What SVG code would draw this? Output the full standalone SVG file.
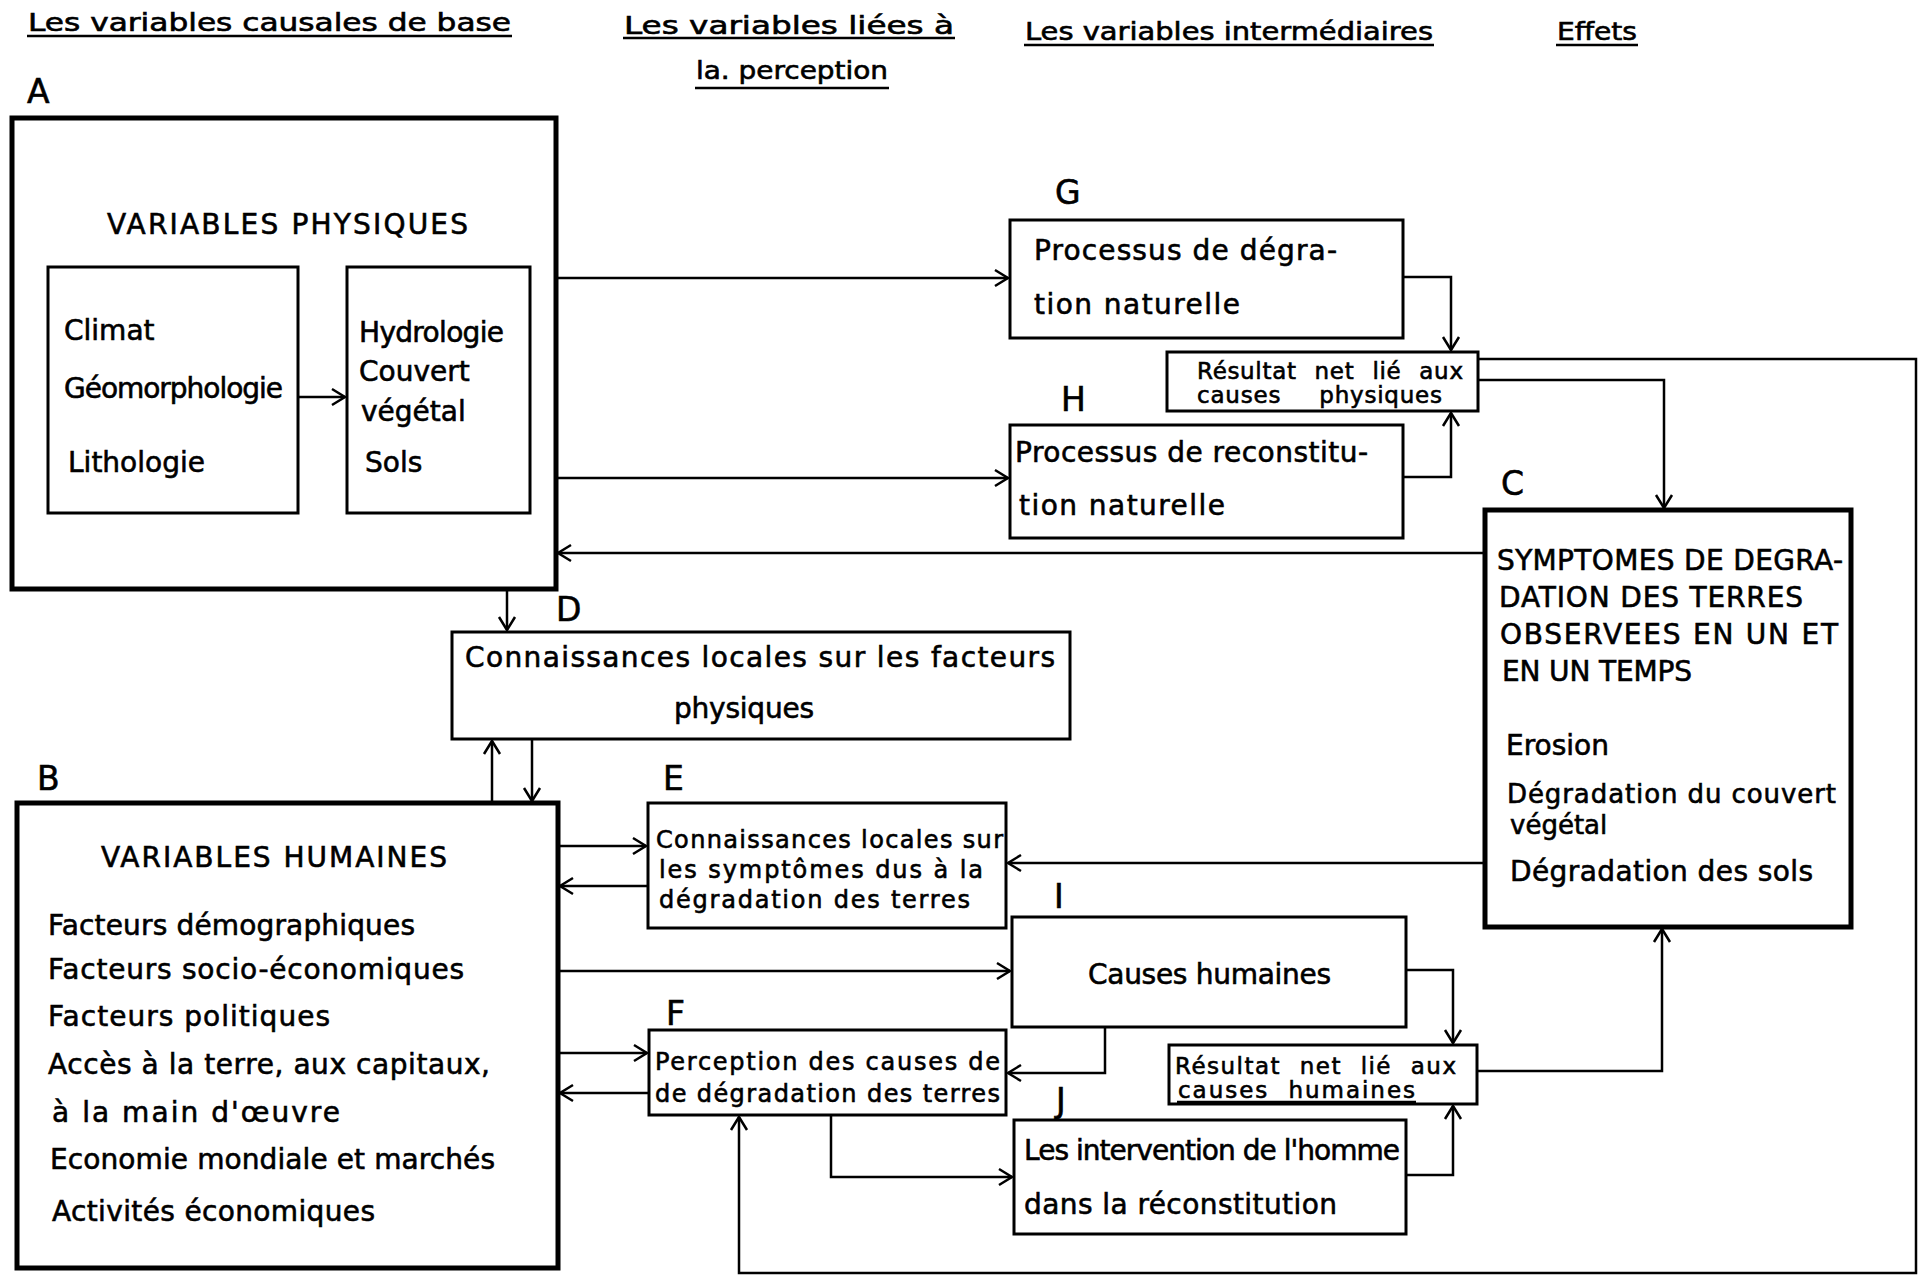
<svg xmlns="http://www.w3.org/2000/svg" width="1922" height="1276" viewBox="0 0 1922 1276">
<style>
text{font-family:"DejaVu Sans",sans-serif;fill:#000;stroke:#000;stroke-width:0.6}
.h{font-size:24px}
.t{font-size:28px}
.t2{font-size:26px}
.s{font-size:23px;word-spacing:10px}
.m{font-size:24px}
.l{font-size:33px}
.box{fill:none;stroke:#000;stroke-width:3}
.big{fill:none;stroke:#000;stroke-width:5}
.ul{stroke:#000;stroke-width:2.5}
.c{fill:none;stroke:#000;stroke-width:2.5}
</style>
<defs>
<marker id="ar" markerUnits="userSpaceOnUse" markerWidth="18" markerHeight="20" refX="15" refY="10" orient="auto">
<path d="M2,2 L15,10 L2,18" fill="none" stroke="#000" stroke-width="2.5"/>
</marker>
</defs>
<rect width="1922" height="1276" fill="#fff"/>

<g id="headers">
<text class="h" x="28" y="31" textLength="483" lengthAdjust="spacingAndGlyphs">Les variables causales de base</text>
<line class="ul" x1="27" y1="36" x2="512" y2="36"/>
<text class="h" x="624" y="34" textLength="330" lengthAdjust="spacingAndGlyphs">Les variables liées à</text>
<line class="ul" x1="623" y1="38" x2="955" y2="38"/>
<text class="h" x="696" y="79" textLength="192" lengthAdjust="spacingAndGlyphs">la. perception</text>
<line class="ul" x1="695" y1="88" x2="889" y2="88"/>
<text class="h" x="1025" y="40" textLength="408" lengthAdjust="spacingAndGlyphs">Les variables intermédiaires</text>
<line class="ul" x1="1024" y1="45" x2="1434" y2="45"/>
<text class="h" x="1557" y="40" textLength="80" lengthAdjust="spacingAndGlyphs">Effets</text>
<line class="ul" x1="1556" y1="45" x2="1638" y2="45"/>
</g>

<g id="nodeA">
<text class="l" x="27" y="103">A</text>
<rect class="big" x="12" y="118" width="544" height="471"/>
<text class="t" x="107" y="234" textLength="361">VARIABLES PHYSIQUES</text>
<rect class="box" x="48" y="267" width="250" height="246"/>
<text class="t" x="64" y="340">Climat</text>
<text class="t" x="64" y="398" textLength="219">Géomorphologie</text>
<text class="t" x="68" y="472">Lithologie</text>
<rect class="box" x="347" y="267" width="183" height="246"/>
<text class="t" x="359" y="342" textLength="145">Hydrologie</text>
<text class="t" x="359" y="381">Couvert</text>
<text class="t" x="361" y="421">végétal</text>
<text class="t" x="365" y="472">Sols</text>
</g>

<g id="nodeG">
<text class="l" x="1055" y="204">G</text>
<rect class="box" x="1010" y="220" width="393" height="118"/>
<text class="t" x="1034" y="260" textLength="303">Processus de dégra-</text>
<text class="t" x="1034" y="314" textLength="206">tion naturelle</text>
</g>

<g id="nodeResPhys">
<rect class="box" x="1167" y="352" width="311" height="59"/>
<text class="s" x="1197" y="379" textLength="266">Résultat net lié aux</text>
<text class="s" x="1197" y="403" textLength="245" style="word-spacing:30px">causes physiques</text>
</g>

<g id="nodeH">
<text class="l" x="1061" y="411">H</text>
<rect class="box" x="1010" y="425" width="393" height="113"/>
<text class="t" x="1015" y="462" textLength="353">Processus de reconstitu-</text>
<text class="t" x="1019" y="515" textLength="206">tion naturelle</text>
</g>

<g id="nodeC">
<text class="l" x="1501" y="495">C</text>
<rect class="big" x="1485" y="510" width="366" height="417"/>
<text class="t" x="1497" y="570" textLength="346">SYMPTOMES DE DEGRA-</text>
<text class="t" x="1499" y="607" textLength="304">DATION DES TERRES</text>
<text class="t" x="1500" y="644" textLength="338">OBSERVEES EN UN ET</text>
<text class="t" x="1502" y="681" textLength="190">EN UN TEMPS</text>
<text class="t" x="1506" y="755">Erosion</text>
<text class="t2" x="1507" y="803" textLength="329">Dégradation du couvert</text>
<text class="t2" x="1510" y="834">végétal</text>
<text class="t" x="1510" y="881" textLength="303">Dégradation des sols</text>
</g>

<g id="nodeD">
<text class="l" x="556" y="621">D</text>
<rect class="box" x="452" y="632" width="618" height="107"/>
<text class="t" x="465" y="667" textLength="590">Connaissances locales sur les facteurs</text>
<text class="t" x="674" y="718" textLength="140">physiques</text>
</g>

<g id="nodeB">
<text class="l" x="37" y="790">B</text>
<rect class="big" x="17" y="803" width="541" height="465"/>
<text class="t" x="101" y="867" textLength="346">VARIABLES HUMAINES</text>
<text class="t" x="48" y="935" textLength="367">Facteurs démographiques</text>
<text class="t" x="48" y="979" textLength="416">Facteurs socio-économiques</text>
<text class="t" x="48" y="1026" textLength="282">Facteurs politiques</text>
<text class="t" x="48" y="1074" textLength="442">Accès à la terre, aux capitaux,</text>
<text class="t" x="52" y="1122" textLength="288">à la main d'œuvre</text>
<text class="t" x="50" y="1169" textLength="445">Economie mondiale et marchés</text>
<text class="t" x="52" y="1221" textLength="323">Activités économiques</text>
</g>

<g id="nodeE">
<text class="l" x="663" y="790">E</text>
<rect class="box" x="648" y="803" width="358" height="125"/>
<text class="m" x="656" y="848" textLength="347">Connaissances locales sur</text>
<text class="m" x="659" y="878" textLength="324">les symptômes dus à la</text>
<text class="m" x="659" y="908" textLength="311">dégradation des terres</text>
</g>

<g id="nodeI">
<text class="l" x="1054" y="908">I</text>
<rect class="box" x="1012" y="917" width="394" height="110"/>
<text class="t" x="1088" y="984" textLength="243">Causes humaines</text>
</g>

<g id="nodeF">
<text class="l" x="666" y="1025">F</text>
<rect class="box" x="649" y="1030" width="357" height="85"/>
<text class="m" x="655" y="1070" textLength="345">Perception des causes de</text>
<text class="m" x="655" y="1102" textLength="345">de dégradation des terres</text>
</g>

<g id="nodeResHum">
<rect class="box" x="1169" y="1045" width="308" height="59"/>
<text class="s" x="1175" y="1074" textLength="281">Résultat net lié aux</text>
<text class="s" x="1178" y="1098" textLength="237">causes humaines</text>
<line class="ul" x1="1177" y1="1102" x2="1416" y2="1102"/>
</g>

<g id="nodeJ">
<text class="l" x="1056" y="1112">J</text>
<rect class="box" x="1014" y="1120" width="392" height="114"/>
<text class="t" x="1024" y="1160" textLength="376">Les intervention de l'homme</text>
<text class="t" x="1024" y="1214" textLength="313">dans la réconstitution</text>
</g>

<g id="connectors">
<path class="c" d="M298,397 L345,397" marker-end="url(#ar)"/>
<path class="c" d="M558,278 L1008,278" marker-end="url(#ar)"/>
<path class="c" d="M558,478 L1008,478" marker-end="url(#ar)"/>
<path class="c" d="M1483,553 L558,553" marker-end="url(#ar)"/>
<path class="c" d="M1403,277 L1451,277 L1451,350" marker-end="url(#ar)"/>
<path class="c" d="M1403,477 L1451,477 L1451,413" marker-end="url(#ar)"/>
<path class="c" d="M1478,380 L1664,380 L1664,508" marker-end="url(#ar)"/>
<path class="c" d="M1478,359 L1916,359 L1916,1273 L739,1273 L739,1117" marker-end="url(#ar)"/>
<path class="c" d="M507,591 L507,630" marker-end="url(#ar)"/>
<path class="c" d="M492,801 L492,741" marker-end="url(#ar)"/>
<path class="c" d="M532,739 L532,801" marker-end="url(#ar)"/>
<path class="c" d="M560,846 L646,846" marker-end="url(#ar)"/>
<path class="c" d="M648,886 L560,886" marker-end="url(#ar)"/>
<path class="c" d="M1485,863 L1008,863" marker-end="url(#ar)"/>
<path class="c" d="M560,971 L1010,971" marker-end="url(#ar)"/>
<path class="c" d="M560,1053 L647,1053" marker-end="url(#ar)"/>
<path class="c" d="M649,1093 L560,1093" marker-end="url(#ar)"/>
<path class="c" d="M1105,1027 L1105,1073 L1008,1073" marker-end="url(#ar)"/>
<path class="c" d="M1406,970 L1453,970 L1453,1043" marker-end="url(#ar)"/>
<path class="c" d="M1406,1175 L1453,1175 L1453,1106" marker-end="url(#ar)"/>
<path class="c" d="M1477,1071 L1662,1071 L1662,929" marker-end="url(#ar)"/>
<path class="c" d="M831,1115 L831,1177 L1012,1177" marker-end="url(#ar)"/>
</g>
</svg>
